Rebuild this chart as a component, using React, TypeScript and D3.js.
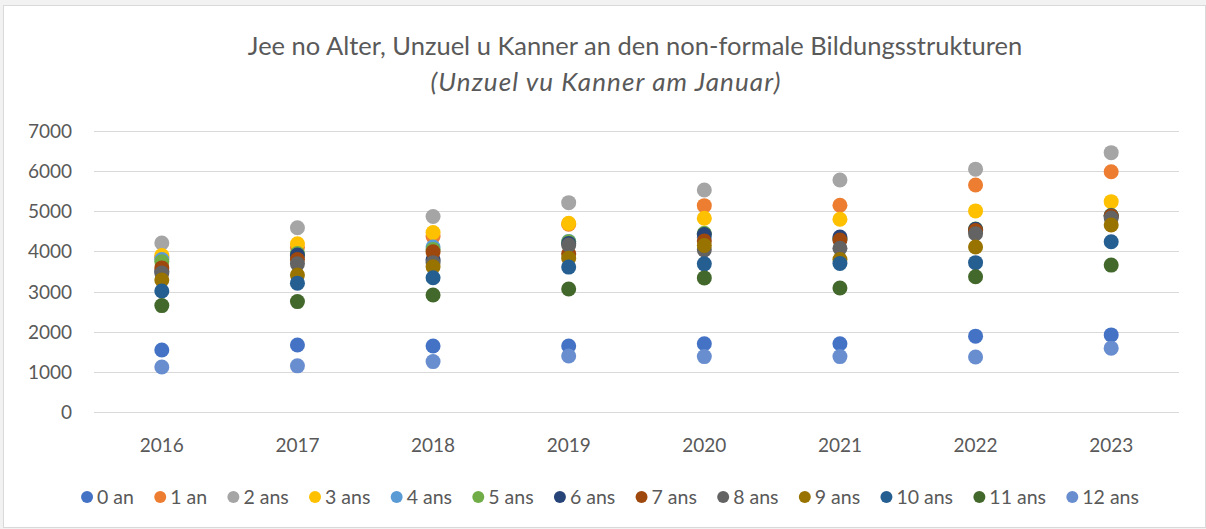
import React, { useRef, useEffect } from 'react';
import * as d3 from 'd3';

const years = ['2016', '2017', '2018', '2019', '2020', '2021', '2022', '2023'];
const seriesNames = ['0 an', '1 an', '2 ans', '3 ans', '4 ans', '5 ans', '6 ans', '7 ans', '8 ans', '9 ans', '10 ans', '11 ans', '12 ans'];
const colors = ['#4472C4', '#ED7D31', '#A5A5A5', '#FFC000', '#5B9BD5', '#70AD47', '#264478', '#9E480E', '#636363', '#997300', '#255E91', '#43682B', '#698ED0'];

const age0 = [1545, 1670, 1645, 1645, 1700, 1700, 1890, 1920];
const age1 = [3850, 4100, 4370, 4680, 5140, 5150, 5655, 5985];
const age2 = [4210, 4590, 4870, 5215, 5530, 5780, 6050, 6460];
const age3 = [3900, 4190, 4470, 4700, 4825, 4800, 5010, 5240];
const age4 = [3800, 3900, 4110, 4250, 4350, 4300, 4520, 4880];
const age5 = [3740, 3950, 4050, 4240, 4450, 4330, 4560, 4900];
const age6 = [3500, 3910, 3790, 4200, 4420, 4360, 4550, 4890];
const age7 = [3590, 3800, 3990, 3940, 4260, 4285, 4520, 4880];
const age8 = [3460, 3690, 3720, 4160, 4040, 4080, 4440, 4830];
const age9 = [3290, 3410, 3620, 3830, 4150, 3800, 4110, 4660];
const age10 = [3015, 3210, 3345, 3610, 3690, 3700, 3720, 4240];
const age11 = [2650, 2750, 2915, 3065, 3340, 3090, 3370, 3660];
const age12 = [1120, 1150, 1255, 1395, 1380, 1380, 1370, 1590];
const allSeries = [age0, age1, age2, age3, age4, age5, age6, age7, age8, age9, age10, age11, age12];
const yTicks = [0, 1000, 2000, 3000, 4000, 5000, 6000, 7000];

const W = 1206;
const H = 529;
const font = 'Lato, "Noto Sans", sans-serif';

function Chart() {
  const svgRef = useRef<SVGSVGElement>(null);

  useEffect(() => {
    const svg = d3.select(svgRef.current);
    svg.selectAll('*').remove();

    svg.append('rect')
      .attr('x', 3.5).attr('y', 5.5)
      .attr('width', W - 4).attr('height', H - 7)
      .attr('fill', '#fff').attr('stroke', '#d9d9d9');

    // title
    svg.append('text')
      .attr('x', 635).attr('y', 55)
      .attr('text-anchor', 'middle')
      .attr('font-family', font).attr('font-size', 25.5)
      .attr('fill', '#595959')
      .text('Jee no Alter, Unzuel u Kanner an den non-formale Bildungsstrukturen');
    svg.append('text')
      .attr('x', 606).attr('y', 91)
      .attr('text-anchor', 'middle')
      .attr('font-family', font).attr('font-size', 26).attr('font-style', 'italic')
      .attr('letter-spacing', 1.1)
      .attr('fill', '#595959')
      .text('(Unzuel vu Kanner am Januar)');

    const x = d3.scaleBand().domain(years).range([94, 1179]);
    const y = d3.scaleLinear().domain([0, 7000]).range([412, 131]);

    // grid
    svg.append('g').selectAll('line')
      .data(yTicks)
      .join('line')
        .attr('x1', 94).attr('x2', 1179)
        .attr('y1', d => Math.round(y(d)) + 0.5)
        .attr('y2', d => Math.round(y(d)) + 0.5)
        .attr('stroke', '#d9d9d9').attr('stroke-width', 1);

    svg.append('g').selectAll('text')
      .data(yTicks)
      .join('text')
        .attr('x', 72).attr('y', d => y(d) + 7)
        .attr('text-anchor', 'end')
        .attr('font-family', font).attr('font-size', 19)
        .attr('fill', '#595959')
        .text(d => d);

    svg.append('g').selectAll('text')
      .data(years)
      .join('text')
        .attr('x', d => (x(d) as number) + x.bandwidth() / 2)
        .attr('y', 452)
        .attr('text-anchor', 'middle')
        .attr('font-family', font).attr('font-size', 19)
        .attr('fill', '#595959')
        .text(d => d);

    // points
    allSeries.forEach((vals, i) => {
      svg.append('g').selectAll('circle')
        .data(vals)
        .join('circle')
          .attr('cx', (d, j) => (x(years[j]) as number) + x.bandwidth() / 2)
          .attr('cy', d => y(d))
          .attr('r', 7.5)
          .attr('fill', colors[i]);
    });

    // legend
    const leg = svg.append('g');
    const gap = 20.3;
    let cx = 0;
    seriesNames.forEach((name, i) => {
      const g = leg.append('g');
      g.append('circle').attr('cx', 6).attr('cy', 0).attr('r', 6).attr('fill', colors[i]);
      const t = g.append('text')
        .attr('x', 16).attr('y', 7)
        .attr('font-family', font).attr('font-size', 19.5)
        .attr('fill', '#595959')
        .text(name);
      const w = 16 + (t.node() as SVGTextElement).getComputedTextLength();
      g.attr('transform', `translate(${cx},0)`);
      cx += w + gap;
    });
    const total = cx - gap;
    leg.attr('transform', `translate(${610 - total / 2},497)`);
  }, []);

  return <svg ref={svgRef} width={W} height={H} style={{ display: 'block' }} />;
}

export default function App() {
  return (
    <div style={{ position: 'fixed', left: 0, top: 0, background: '#f2f2f2' }}>
      <Chart />
    </div>
  );
}
